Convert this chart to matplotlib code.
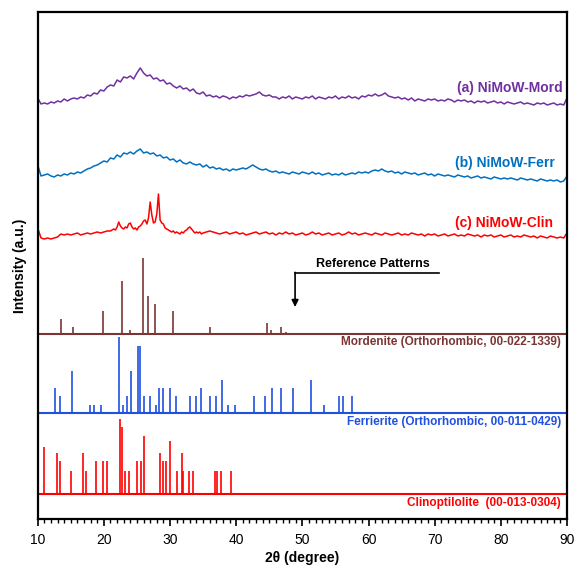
import numpy as np
import matplotlib.pyplot as plt
from matplotlib.ticker import MultipleLocator

plt.rcParams['font.family'] = ['Liberation Sans', 'DejaVu Sans']

# ---- measured XRD patterns (intensity, a.u.) ----
theta = np.arange(10, 90.01, 0.5)

mord = [8, 2, 3, 2, 4, 3, 5, 4, 7, 5,
        7, 8, 7, 9, 8, 11, 10, 13, 12, 16,
        15, 19, 21, 20, 26, 24, 29, 28, 30, 27,
        33, 38, 33, 30, 31, 27, 28, 25, 26, 22,
        23, 20, 18, 20, 17, 18, 15, 17, 13, 12,
        14, 10, 11, 9, 10, 8, 10, 9, 7, 9,
        8, 10, 9, 11, 10, 11, 12, 14, 11, 10,
        11, 9, 9, 7, 9, 8, 10, 7, 9, 8,
        7, 9, 8, 10, 7, 9, 8, 7, 9, 8,
        10, 7, 9, 8, 10, 8, 9, 7, 10, 9,
        11, 10, 12, 10, 11, 13, 10, 9, 8, 9,
        7, 8, 6, 8, 5, 7, 6, 5, 7, 6,
        7, 5, 6, 5, 7, 6, 4, 6, 5, 6,
        4, 5, 3, 5, 4, 5, 3, 4, 5, 3,
        4, 2, 4, 3, 2, 3, 4, 2, 3, 2,
        1, 3, 2, 3, 1, 2, 3, 1, 2, 1,
        8]

ferr = [17, 6, 7, 8, 6, 5, 7, 6, 8, 7,
        9, 8, 10, 9, 11, 13, 14, 16, 17, 19,
        21, 20, 24, 23, 27, 25, 29, 28, 30, 28,
        31, 33, 29, 30, 28, 29, 26, 27, 24, 25,
        22, 23, 20, 22, 19, 18, 20, 18, 17, 18,
        15, 17, 14, 15, 13, 14, 12, 13, 11, 13,
        12, 13, 14, 13, 15, 17, 15, 13, 12, 13,
        11, 10, 11, 9, 10, 9, 8, 10, 9, 8,
        10, 9, 8, 10, 8, 9, 7, 8, 9, 7,
        8, 7, 9, 7, 8, 9, 8, 10, 9, 10,
        9, 11, 12, 11, 13, 11, 10, 11, 9, 10,
        8, 10, 9, 8, 9, 7, 8, 9, 7, 8,
        6, 8, 7, 6, 7, 6, 5, 7, 6, 5,
        6, 4, 5, 6, 4, 5, 4, 3, 5, 4,
        3, 4, 3, 4, 3, 2, 4, 3, 2, 3,
        2, 1, 3, 2, 1, 2, 1, 2, 0, 1,
        6]

clin_theta = np.concatenate([np.arange(10, 21, 0.5),
                             np.arange(21, 35, 0.25),
                             np.arange(35, 90.01, 0.5)])
clin = [12, 2, 1, 2, 1, 2, 3, 6, 5, 6,
        5, 6, 7, 5, 6, 7, 6, 7, 8, 7,
        8, 9,
        9, 10, 11, 10, 13, 18, 14, 12, 11, 13,
        12, 16, 17, 13, 11, 12, 10, 13, 14, 16,
        19, 20, 16, 22, 38, 25, 17, 18, 26, 46,
        20, 17, 16, 12, 11, 10, 9, 8, 9, 7,
        8, 7, 6, 8, 7, 9, 10, 12, 13, 11,
        9, 7, 8, 7, 8, 6,
        7, 8, 9, 8, 7, 6, 7, 8, 6, 7,
        8, 6, 7, 5, 6, 7, 8, 6, 7, 8,
        6, 7, 5, 7, 6, 8, 6, 7, 5, 6,
        7, 5, 6, 8, 6, 7, 5, 6, 7, 5,
        6, 7, 5, 6, 8, 6, 7, 5, 6, 7,
        6, 5, 7, 6, 5, 7, 6, 5, 6, 7,
        5, 6, 5, 7, 6, 5, 6, 4, 6, 5,
        6, 4, 5, 6, 4, 5, 6, 4, 5, 4,
        6, 5, 4, 5, 3, 5, 4, 5, 3, 4,
        5, 3, 4, 5, 3, 4, 3, 5, 4, 3,
        4, 2, 4, 3, 2, 4, 3, 2, 3, 2,
        7]

# ---- reference patterns (2theta, relative intensity) ----
mor_pos = [13.58, 15.3, 19.87, 22.69, 23.9, 25.96, 26.7, 27.8, 30.45, 36.0,
           44.65, 45.3, 46.8, 47.55]
mor_int = [15, 7, 23, 53, 4, 76, 38, 30, 23, 7, 11, 4, 7, 2]

fer_pos = [12.6, 13.4, 15.2, 17.9, 18.5, 19.5, 22.35, 22.9, 23.45, 24.05,
           25.1, 25.5, 26.0, 26.97, 27.9, 28.3, 29.0, 30.0, 30.85, 32.97,
           33.9, 34.7, 36.1, 36.95, 37.9, 38.8, 39.87, 42.74, 44.3, 45.37,
           46.8, 48.6, 51.3, 53.3, 55.6, 56.2, 57.55]
fer_int = [25, 17, 42, 8, 8, 8, 76, 8, 17, 42,
           67, 67, 17, 17, 8, 25, 25, 25, 17, 17,
           17, 25, 17, 17, 33, 8, 8, 17, 17, 25,
           25, 25, 33, 8, 17, 17, 17]

cli_pos = [11.0, 12.97, 13.3, 14.97, 16.9, 17.25, 18.8, 19.8, 20.4, 22.4,
           22.7, 23.2, 23.8, 24.96, 25.57, 26.0, 28.5, 29.0, 29.4, 30.0,
           31.05, 31.76, 31.96, 32.8, 33.4, 36.8, 37.1, 37.66, 39.2]
cli_int = [47, 41, 33, 23, 41, 23, 33, 33, 33, 75,
           67, 23, 23, 33, 33, 58, 41, 33, 33, 53,
           23, 41, 23, 23, 23, 23, 23, 23, 23]

fig = plt.figure(figsize=(5.79, 5.65), dpi=100)
ax = fig.add_axes([0.0651, 0.0814, 0.9142, 0.8974])

# vertical offsets of the stacked patterns
off_a, off_b, off_c = 413, 337, 279
off_mor, off_fer, off_cli = 184.7, 105.7, 24.7

ax.plot(theta, np.array(mord) + off_a, color='#7030A0', lw=1.1)
ax.plot(theta, np.array(ferr) + off_b, color='#0070C0', lw=1.1)
ax.plot(clin_theta, np.array(clin) + off_c, color='#FF0000', lw=1.1)

ax.vlines(mor_pos, off_mor, off_mor + np.array(mor_int), color='#7B3535', lw=1.2)
ax.hlines(off_mor, 10, 90, color='#7B3535', lw=1.5)
ax.vlines(fer_pos, off_fer, off_fer + np.array(fer_int), color='#2050E0', lw=1.2)
ax.hlines(off_fer, 10, 90, color='#2050E0', lw=1.5)
ax.vlines(cli_pos, off_cli, off_cli + np.array(cli_int), color='#FF0000', lw=1.2)
ax.hlines(off_cli, 10, 90, color='#FF0000', lw=1.5)

tk = dict(ha='right', va='center', fontweight='bold')
ax.text(89.4, 431, '(a) NiMoW-Mord', color='#7030A0', fontsize=10, **tk)
ax.text(88.2, 356, '(b) NiMoW-Ferr', color='#0070C0', fontsize=10, **tk)
ax.text(87.9, 296, '(c) NiMoW-Clin', color='#FF0000', fontsize=10, **tk)
ax.text(89.1, 177, 'Mordenite (Orthorhombic, 00-022-1339)', color='#7B3535', fontsize=8.5, **tk)
ax.text(89.1, 97.3, 'Ferrierite (Orthorhombic, 00-011-0429)', color='#2050E0', fontsize=8.5, **tk)
ax.text(89.1, 16, 'Clinoptilolite  (00-013-0304)', color='#FF0000', fontsize=8.5, **tk)

ax.text(60.7, 255, 'Reference Patterns', ha='center', va='center',
        fontsize=9, fontweight='bold', color='black')
ax.plot([70.7, 48.9], [246, 246], color='black', lw=1.2)
ax.annotate('', xy=(48.9, 212), xytext=(48.9, 246.6),
            arrowprops=dict(arrowstyle='-|>', color='black', lw=1.2,
                            mutation_scale=10, shrinkA=0, shrinkB=0))

ax.set_xlim(10, 90)
ax.set_ylim(0, 507)
ax.xaxis.set_major_locator(MultipleLocator(10))
ax.xaxis.set_minor_locator(MultipleLocator(1))
ax.tick_params(axis='x', which='major', length=5, width=1.2, labelsize=10, pad=5)
ax.tick_params(axis='x', which='minor', length=3, width=1.0)
ax.set_yticks([])
for s in ax.spines.values():
    s.set_linewidth(1.6)

ax.set_xlabel('2θ (degree)', fontsize=10, fontweight='bold', labelpad=3)
ax.set_ylabel('Intensity (a.u.)', fontsize=10, fontweight='bold', labelpad=8)

fig.savefig('out.png', dpi=100)
